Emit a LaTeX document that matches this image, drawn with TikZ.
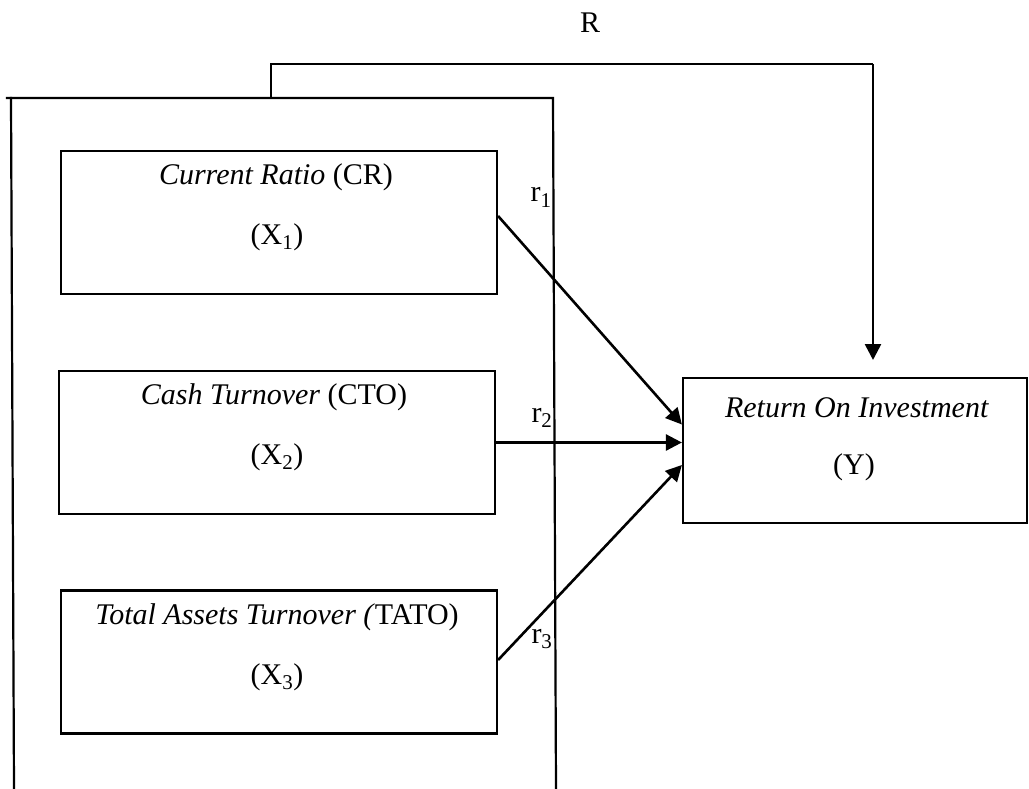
\documentclass[tikz,border=0pt]{standalone}
\usepackage{fontspec}
\setmainfont{Liberation Serif}
\usetikzlibrary{arrows.meta}
\begin{document}
\begin{tikzpicture}[x=1pt,y=-1pt,
  frameline/.style={line width=2.2pt,line cap=rect},
  box/.style={draw,line width=2.2pt,minimum width=436pt,minimum height=143pt,inner sep=0pt},
  lab/.style={font=\fontsize{30}{34}\selectfont,inner sep=0pt},
  arr/.style={line width=2.6pt,-{Triangle[length=16pt,width=16pt]}}]
\useasboundingbox (0,0) rectangle (1029,789);
% big frame
\coordinate (ftl) at (7,98);
\coordinate (ftr) at (553,98);
\coordinate (fl) at (11,98);
\coordinate (flb) at (14,789);
\coordinate (frb) at (556,789);
\coordinate (rs) at (271,98);
\coordinate (rtl) at (271,64);
\coordinate (rtr) at (873,64);
\coordinate (rtip) at (873,360);
\draw[frameline] (ftl) -- (ftr) -- (frb);
\draw[frameline] (fl) -- (flb);
% boxes
\node[box] (b1) at (279,222.5) {};
\node[box] (b2) at (277,442.5) {};
\node[box] (b3) at (279,662) {};
\node[box,minimum width=344pt,minimum height=145pt] (Y) at (855,450.5) {};
% texts
\node[lab] (t1) at (276,177) {\textit{Current Ratio} (CR)};
\node[lab] (x1) at (277,237) {(X\textsubscript{1})};
\node[lab] (t2) at (274,397) {\textit{Cash Turnover} (CTO)};
\node[lab] (x2) at (277,457) {(X\textsubscript{2})};
\node[lab] (t3) at (277,617) {\textit{Total Assets Turnover (}TATO)};
\node[lab] (x3) at (277,677) {(X\textsubscript{3})};
\node[lab] (ty) at (857,408) {\textit{Return On Investment}};
\node[lab] (xy) at (854,467) {(Y)};
% R path
\node[lab,anchor=base] (R) at (590,33) {R};
\draw[frameline,line cap=butt] (rs) -- (rtl) -- (rtr);
\draw[arr] (rtr) -- (rtip);
% arrows
\draw[arr] ([yshift=6.5pt]b1.east) -- ([yshift=26pt]Y.west);
\draw[arr] (b2.east) -- (Y.west |- b2.east);
\draw[arr] ([yshift=2pt]b3.east) -- ([yshift=-14.5pt]Y.west);
% r labels
\node[lab,anchor=base] (r1) at (541,202) {r\textsubscript{1}};
\node[lab,anchor=base] (r2) at (542,422) {r\textsubscript{2}};
\node[lab,anchor=base] (r3) at (542,643) {r\textsubscript{3}};
\end{tikzpicture}
\end{document}
